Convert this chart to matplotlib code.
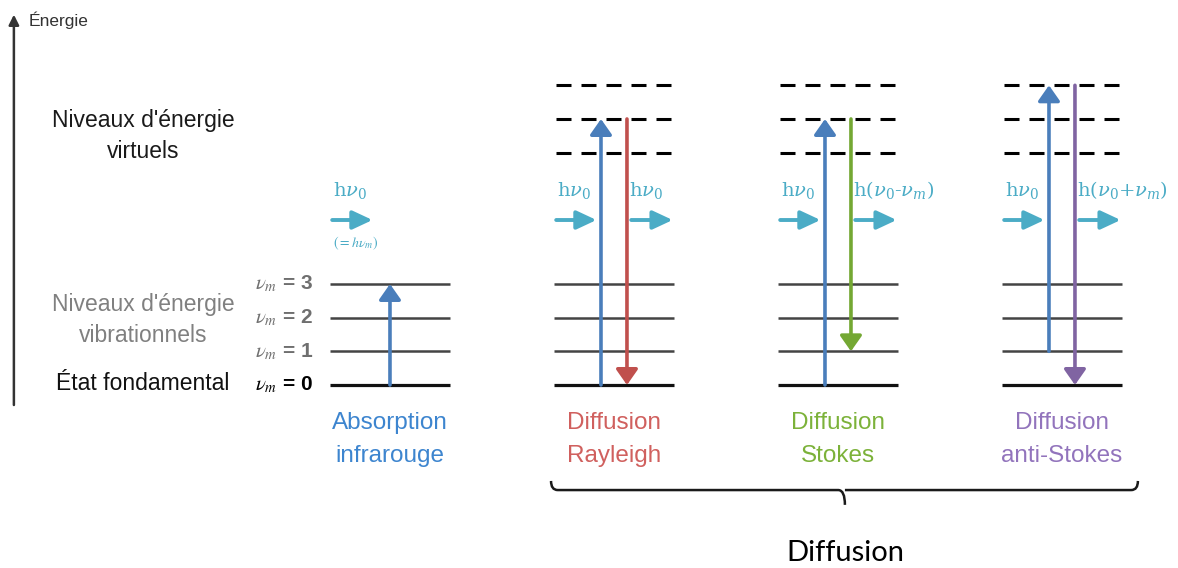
import matplotlib
matplotlib.use("Agg")
import matplotlib.pyplot as plt
from matplotlib.path import Path
from matplotlib.patches import PathPatch

plt.rcParams["font.family"] = ["Liberation Sans", "DejaVu Sans"]
plt.rcParams["mathtext.fontset"] = "stix"
plt.rcParams["lines.scale_dashes"] = False

# ============================================================
# DATA
# ============================================================
vib_levels = [0, 1, 2, 3]            # vibrational levels (energy units)
vib_labels = ["0", "1", "2", "3"]
virtual_levels = [6.9, 7.9, 8.9]     # virtual levels

columns = ["Absorption\ninfrarouge", "Diffusion\nRayleigh",
           "Diffusion\nStokes", "Diffusion\nanti-Stokes"]
# incident photon (up) and scattered (down) transitions per column
up_start = [0, 0, 0, 1]
up_end = [3, 7.9, 7.9, 8.9]
down_end = [None, 0, 1, 0]
out_labels = [None, r"$\mathrm{h}\nu_0$", "$\\mathrm{h}(\\nu_0\u2010\\nu_m)$",
              r"$\mathrm{h}(\nu_0\mathrm{+}\nu_m)$"]

col_colors = ["#4A7EBB", "#C0504D", "#74A833", "#8064A2"]
label_colors = ["#3D85CF", "#D0605E", "#7CB23A", "#9274BC"]
photon_color = "#4BACC6"

# ============================================================
# FIGURE
# ============================================================
fig = plt.figure(figsize=(11.78, 5.68), dpi=100)
ax = fig.add_axes([0, 0, 1, 1])
ax.set_xlim(-1.741, 3.518)
ax.set_ylim(-5.435, 11.434)
ax.axis("off")

half = 0.268
off = 0.058

# ============================================================
# LEVELS
# ============================================================
for i in range(len(columns)):
    for v in vib_levels:
        ax.plot([i - half, i + half], [v, v],
                color="#111111" if v == 0 else "#444444",
                lw=2.3 if v == 0 else 1.8, solid_capstyle="butt", zorder=1)
    if i > 0:
        for e in virtual_levels:
            ax.plot([i - half + 0.01, i + half], [e, e], color="black",
                    lw=2.2, linestyle=(0, (10.8, 7.2)), zorder=1)


def arrow(x0, y0, x1, y1, color, lw=2.6, hl=0.47, hw=0.33):
    ax.annotate("", xy=(x1, y1), xytext=(x0, y0),
                arrowprops=dict(arrowstyle=f"-|>,head_length={hl},head_width={hw}",
                                color=color, lw=lw, shrinkA=0, shrinkB=0,
                                mutation_scale=20),
                zorder=5)


# ============================================================
# TRANSITIONS
# ============================================================
y_ph = 4.9
for i in range(len(columns)):
    if down_end[i] is None:
        arrow(i, up_start[i], i, up_end[i], col_colors[0])
    else:
        arrow(i - off, up_start[i], i - off, up_end[i], col_colors[0])
        arrow(i + off, up_end[i], i + off, down_end[i], col_colors[i])

    # photons
    x_left = i - half
    arrow(x_left + 0.01, y_ph, x_left + 0.19, y_ph, photon_color,
          lw=2.8, hl=0.6, hw=0.28)
    ax.text(x_left + 0.012, y_ph + 0.55, r"$\mathrm{h}\nu_0$", color=photon_color,
            fontsize=14, ha="left", va="bottom", math_fontfamily="dejavuserif")
    if out_labels[i] is not None:
        arrow(x_left + 0.345, y_ph, x_left + 0.53, y_ph, photon_color,
              lw=2.8, hl=0.6, hw=0.28)
        ax.text(x_left + 0.335, y_ph + 0.55, out_labels[i], color=photon_color,
                fontsize=14, ha="left", va="bottom", math_fontfamily="dejavuserif")

    ax.text(i, -1.63, columns[i], color=label_colors[i], fontsize=17.5,
            ha="center", va="center", linespacing=1.65)

ax.text(-0.255, y_ph - 0.7, r"$(=h\nu_m)$", color=photon_color, fontsize=10,
        ha="left", va="center")

# ============================================================
# LEFT LABELS
# ============================================================
for v, lab in zip(vib_levels, vib_labels):
    c = "black" if v == 0 else "#6F6F6F"
    ax.text(-0.344, v, r"$\nu_m$" + " = " + lab, color=c, fontsize=15,
            ha="right", va="center", fontweight="bold")

ax.text(-1.103, 7.4, "Niveaux d'énergie\nvirtuels", fontsize=16.5,
        ha="center", va="center", color="#1A1A1A", linespacing=1.45)
ax.text(-1.103, 1.93, "Niveaux d'énergie\nvibrationnels", fontsize=16.5,
        ha="center", va="center", color="#808080", linespacing=1.42)
ax.text(-1.103, 0.05, "État fondamental", fontsize=16.5,
        ha="center", va="center", color="#111111")

# energy axis
arrow(-1.679, -0.594, -1.679, 11.0, "#333333", lw=1.8, hl=0.3, hw=0.15)
ax.text(-1.612, 10.84, "Énergie", fontsize=12.5, ha="left", va="center",
        color="#333333")

# ============================================================
# BRACE
# ============================================================
xl, xr, xm = 0.719, 3.339, 2.031
yt, yb, ytip = -2.85, -3.12, -3.56
r = 0.03
verts = [(xl, yt), (xl, yb), (xl + r, yb),
         (xm - r, yb), (xm, yb), (xm, ytip),
         (xm, yb), (xm + r, yb),
         (xr - r, yb), (xr, yb), (xr, yt)]
codes = [Path.MOVETO, Path.CURVE3, Path.CURVE3,
         Path.LINETO, Path.CURVE3, Path.CURVE3,
         Path.MOVETO, Path.LINETO,
         Path.LINETO, Path.CURVE3, Path.CURVE3]
ax.add_patch(PathPatch(Path(verts, codes), facecolor="none",
                       edgecolor="#1A1A1A", lw=1.8))

ax.text(xm, -4.99, "Diffusion", fontsize=21, ha="center", va="center",
        family=["Lato", "DejaVu Sans"], color="black")

fig.savefig("out.png", dpi=100)
